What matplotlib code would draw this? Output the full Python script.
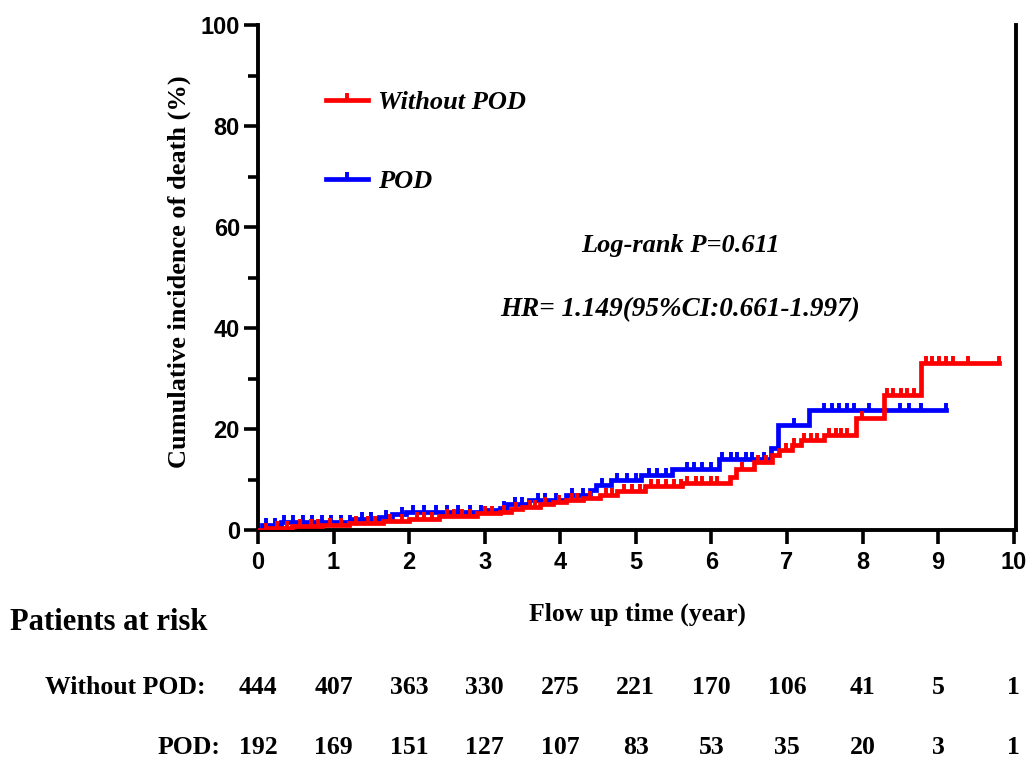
import numpy as np
import matplotlib
matplotlib.use("Agg")
from matplotlib import pyplot as plt
from matplotlib.path import Path
from matplotlib.lines import Line2D
from matplotlib.ticker import MultipleLocator

# step curves: time (years) where level starts, cumulative incidence (%)
red_times = [0, 0.15, 0.45, 0.85, 1.2, 1.65, 2.0, 2.4, 2.9, 3.2, 3.35, 3.5, 3.73, 3.9,
             4.08, 4.3, 4.53, 4.75, 5.12, 5.61, 6.25, 6.33, 6.56, 6.8, 6.89, 7.07, 7.18,
             7.49, 7.91, 8.28, 8.78]
red_levels = [0, 0.4, 0.8, 1.0, 1.4, 1.8, 2.2, 2.8, 3.3, 3.6, 4.1, 4.5, 5.1, 5.5,
              6.0, 6.4, 6.9, 7.8, 8.7, 9.3, 10.5, 12.0, 13.5, 14.8, 15.8, 16.8, 17.8,
              18.8, 22.2, 26.7, 33.0]
red_end = 9.8
red_censor = [0.1, 0.25, 0.38, 0.55, 0.7, 0.8, 0.95, 1.1, 1.3, 1.45, 1.55, 1.75, 1.9,
              2.1, 2.2, 2.3, 2.5, 2.6, 2.7, 2.8, 3.0, 3.1, 3.25, 3.42, 3.6, 3.67, 3.8,
              3.98, 4.15, 4.22, 4.4, 4.6, 4.68, 4.85, 4.95, 5.05, 5.2, 5.3, 5.4, 5.5,
              5.6, 5.68, 5.8, 5.88, 6.0, 6.08, 6.4, 6.62, 6.72, 6.99, 7.09, 7.23, 7.32,
              7.4, 7.56, 7.65, 7.71, 7.79, 7.99, 8.32, 8.41, 8.51, 8.59, 8.68, 8.84,
              8.92, 9.01, 9.1, 9.2, 9.4, 9.8]

blue_times = [0, 0.05, 0.3, 1.25, 1.6, 1.77, 1.96, 3.0, 3.2, 3.3, 3.59, 4.08, 4.39,
              4.47, 4.67, 5.07, 5.48, 6.1, 6.79, 6.88, 7.29]
blue_levels = [0, 1.0, 1.6, 2.1, 2.6, 3.1, 3.5, 3.9, 4.3, 5.1, 6.0, 6.9, 7.9,
               8.9, 9.9, 10.9, 12.1, 14.1, 16.2, 20.8, 23.8]
blue_end = 9.1
blue_censor = [0.1, 0.22, 0.35, 0.47, 0.6, 0.72, 0.85, 0.97, 1.1, 1.22, 1.38, 1.5,
               1.7, 1.9, 2.05, 2.2, 2.35, 2.5, 2.65, 2.8, 2.95, 3.25, 3.4, 3.5, 3.7,
               3.8, 3.95, 4.15, 4.3, 4.55, 4.75, 4.88, 5.0, 5.18, 5.28, 5.4, 5.68,
               5.77, 5.88, 6.0, 6.14, 6.26, 6.34, 6.46, 6.54, 6.7, 7.09, 7.49, 7.6,
               7.69, 7.79, 7.89, 8.08, 8.5, 8.61, 8.78, 9.1]

# patients at risk table
risk_years = [0, 1, 2, 3, 4, 5, 6, 7, 8, 9, 10]
risk_without = [444, 407, 363, 330, 275, 221, 170, 106, 41, 5, 1]
risk_pod = [192, 169, 151, 127, 107, 83, 53, 35, 20, 3, 1]

RED = "#ff0000"
BLUE = "#0000ff"
SERIF = "Liberation Serif"
SANS = "Liberation Sans"

# censor mark: short vertical tick sitting on top of the line
tick_mark = Path([(0, 0), (0, 1)], [Path.MOVETO, Path.LINETO])


def draw_curve(ax, times, levels, end, censor, color):
    t = np.append(times, end)
    y = np.append(levels, levels[-1])
    ax.step(t, y, where="post", color=color, lw=3.4, solid_joinstyle="miter", zorder=3)
    idx = np.searchsorted(times, censor, side="right") - 1
    cy = np.asarray(levels)[idx]
    ax.plot(censor, cy, ls="none", marker=tick_mark, ms=10, mew=2.8,
            color=color, zorder=3)


fig = plt.figure(figsize=(10.27, 7.59), dpi=100)
ax = fig.add_axes([0.2512, 0.3017, 0.738, 0.6653])

draw_curve(ax, blue_times, blue_levels, blue_end, blue_censor, BLUE)
draw_curve(ax, red_times, red_levels, red_end, red_censor, RED)

ax.set_xlim(0, 10.03)
ax.set_ylim(0, 100)
ax.xaxis.set_major_locator(MultipleLocator(1))
ax.yaxis.set_major_locator(MultipleLocator(20))
ax.yaxis.set_minor_locator(MultipleLocator(10))

for side in ["left", "bottom", "right"]:
    ax.spines[side].set_linewidth(2.8)
ax.spines["top"].set_visible(False)
ax.tick_params(axis="both", which="major", length=10, width=2.6, direction="out")
ax.tick_params(axis="y", which="minor", length=7, width=2.6, direction="out")
ax.tick_params(axis="x", pad=5)
ax.tick_params(axis="y", pad=3)
for lab in ax.get_xticklabels() + ax.get_yticklabels():
    lab.set_fontfamily(SANS)
    lab.set_fontweight("bold")
    lab.set_fontsize(17)

ax.set_ylabel("Cumulative incidence of death (%)", fontfamily=SERIF,
              fontweight="bold", fontsize=19)
ax.yaxis.set_label_coords(-0.088, 0.512)
ax.set_xlabel("Flow up time (year)", fontfamily=SERIF, fontweight="bold",
              fontsize=18.5, labelpad=21)

handles = [
    Line2D([], [], color=RED, lw=3.4, marker=tick_mark, ms=10, mew=2.8),
    Line2D([], [], color=BLUE, lw=3.4, marker=tick_mark, ms=10, mew=2.8),
]
leg = ax.legend(handles, ["Without POD", "POD"], loc="upper left",
                bbox_to_anchor=(0.058, 0.917), frameon=False, numpoints=1,
                handlelength=1.6, handletextpad=0.4, labelspacing=2.1,
                prop={"family": SERIF, "weight": "bold", "style": "italic", "size": 19})

ax.text(5.59, 56.4, "Log-rank P=0.611", ha="center", va="center", fontfamily=SERIF,
        fontweight="bold", fontstyle="italic", fontsize=19)
ax.text(5.59, 43.6, "HR= 1.149(95%CI:0.661-1.997)", ha="center", va="center",
        fontfamily=SERIF, fontweight="bold", fontstyle="italic", fontsize=19.5)

# risk table below the axis
trans = ax.get_xaxis_transform()
fig.text(0.0097, 0.1805, "Patients at risk", ha="left", va="center", fontfamily=SERIF,
         fontweight="bold", fontsize=22)
ax.text(-0.7, -0.311, "Without POD:", transform=trans, ha="right", va="center",
        fontfamily=SERIF, fontweight="bold", fontsize=18.5)
ax.text(-0.5, -0.430, "POD:", transform=trans, ha="right", va="center",
        fontfamily=SERIF, fontweight="bold", fontsize=18.5)
for yr, n1, n2 in zip(risk_years, risk_without, risk_pod):
    ax.text(yr, -0.311, str(n1), transform=trans, ha="center", va="center",
            fontfamily=SERIF, fontweight="bold", fontsize=18.5)
    ax.text(yr, -0.430, str(n2), transform=trans, ha="center", va="center",
            fontfamily=SERIF, fontweight="bold", fontsize=18.5)

fig.savefig("out.png", dpi=100)
